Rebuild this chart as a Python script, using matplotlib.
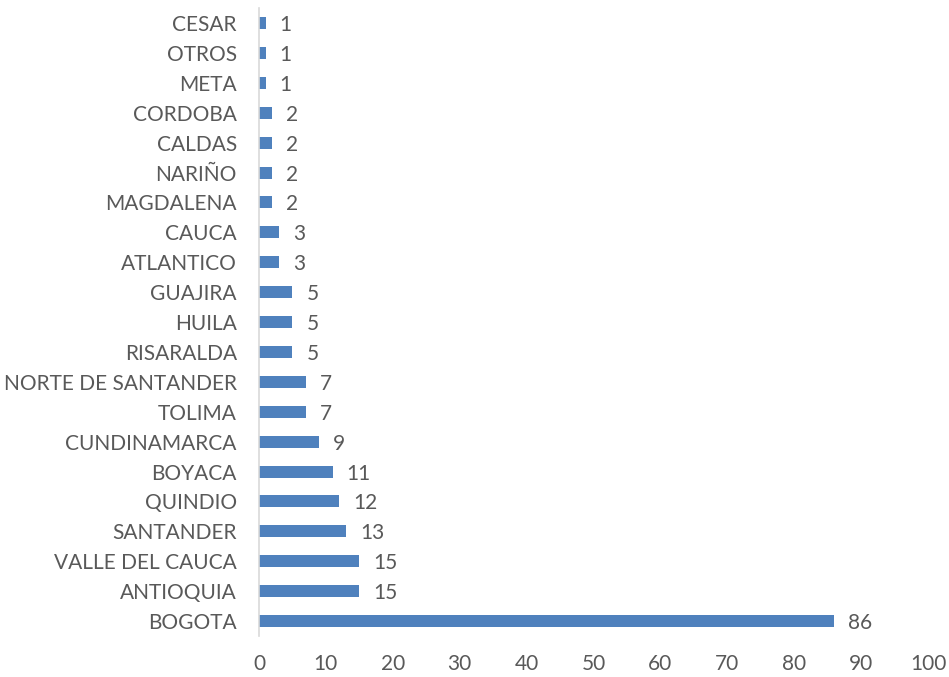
import matplotlib
matplotlib.use("Agg")
import matplotlib.pyplot as plt

plt.rcParams['font.family'] = ['Lato', 'DejaVu Sans']

departamentos = ['BOGOTA', 'ANTIOQUIA', 'VALLE DEL CAUCA', 'SANTANDER', 'QUINDIO',
                 'BOYACA', 'CUNDINAMARCA', 'TOLIMA', 'NORTE DE SANTANDER', 'RISARALDA',
                 'HUILA', 'GUAJIRA', 'ATLANTICO', 'CAUCA', 'MAGDALENA', 'NARIÑO',
                 'CALDAS', 'CORDOBA', 'META', 'OTROS', 'CESAR']
valores = [86, 15, 15, 13, 12, 11, 9, 7, 7, 5, 5, 5, 3, 3, 2, 2, 2, 2, 1, 1, 1]
x_ticks = [0, 10, 20, 30, 40, 50, 60, 70, 80, 90, 100]

text_color = '#595959'
bar_color = '#4F81BD'

fig = plt.figure(figsize=(9.49, 6.77), dpi=100)
ax = fig.add_axes([0.2729, 0.0606, 0.705, 0.9274])

y = range(len(departamentos))
ax.barh(y, valores, height=0.4, color=bar_color)

for i, v in enumerate(valores):
    ax.annotate(str(v), (v, i), xytext=(14, -2), textcoords='offset pixels',
                ha='left', va='center', fontsize=15, color=text_color)

ax.set_xlim(0, 100)
ax.set_ylim(-0.5, len(departamentos) - 0.5)
ax.set_xticks(x_ticks)
ax.set_yticks(list(y))
ax.set_yticklabels(departamentos)

for side in ['top', 'right', 'bottom']:
    ax.spines[side].set_visible(False)
ax.spines['left'].set_color('#D9D9D9')
ax.spines['left'].set_linewidth(1.2)

ax.tick_params(axis='both', length=0, labelsize=15, colors=text_color)
ax.tick_params(axis='y', pad=16)
ax.tick_params(axis='x', pad=13)

fig.savefig('out.png', dpi=100)
